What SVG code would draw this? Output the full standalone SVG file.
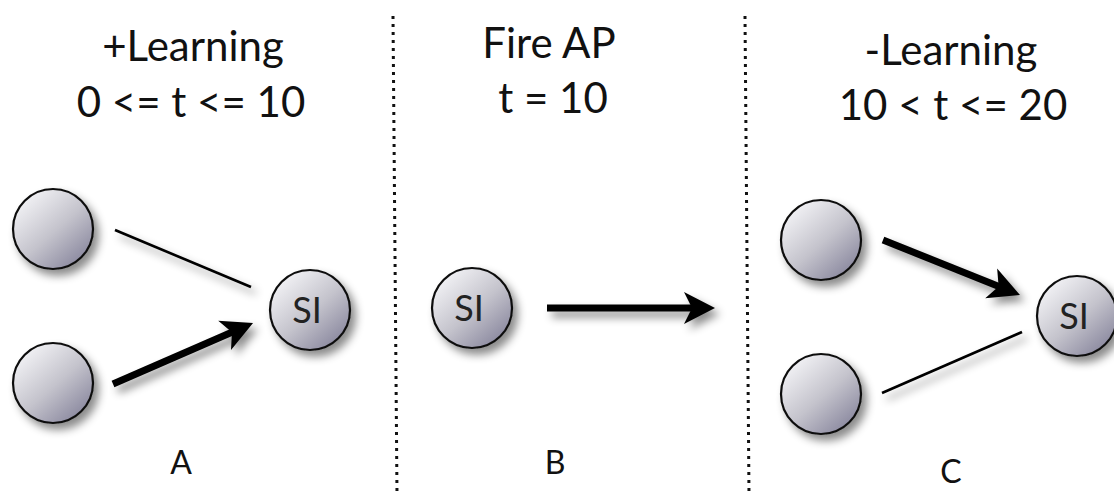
<svg xmlns="http://www.w3.org/2000/svg" width="1114" height="494" viewBox="0 0 1114 494">
  <style>
    .title { font-family: Lato, "Open Sans", sans-serif; font-size: 42px; fill: #111; text-anchor: middle; }
    .label { font-family: Lato, "Open Sans", sans-serif; font-size: 32px; fill: #111; text-anchor: middle; }
    .nodetext { font-family: Lato, "Open Sans", sans-serif; font-size: 36px; fill: #222; text-anchor: middle; }
    .neuron { fill: url(#ballGrad); stroke: #111; stroke-width: 2.2; filter: url(#shadow); }
    .divider { stroke: #111; stroke-width: 3; stroke-dasharray: 3 5; fill: none; }
    .weak { stroke: #000; stroke-width: 2.6; fill: none; filter: url(#shadow); }
    .strong { stroke: #000; stroke-width: 7; fill: none; marker-end: url(#head); filter: url(#shadow); }
  </style>
  <defs>
    <linearGradient id="ballGrad" x1="0.15" y1="0.1" x2="0.9" y2="0.95">
      <stop offset="0" stop-color="#f2f2f5"/>
      <stop offset="0.5" stop-color="#c4c3cc"/>
      <stop offset="1" stop-color="#84829a"/>
    </linearGradient>
    <!-- user-space region so straight horizontal strokes keep their shadow -->
    <filter id="shadow" filterUnits="userSpaceOnUse" x="0" y="0" width="1114" height="494">
      <feDropShadow dx="5" dy="6" stdDeviation="4" flood-color="#000" flood-opacity="0.45"/>
    </filter>
    <marker id="head" markerUnits="userSpaceOnUse" orient="auto" refX="0" refY="0"
            viewBox="-15 -20 40 40" markerWidth="40" markerHeight="40" overflow="visible">
      <path d="M20,0 L-11,-16 L-3,0 L-11,16 Z" fill="#000"/>
    </marker>
  </defs>

  <!-- panel dividers -->
  <line class="divider" x1="393" y1="16" x2="397" y2="494"/>
  <line class="divider" x1="745" y1="16" x2="749" y2="494"/>

  <!-- headings -->
  <text class="title" x="193" y="61">+Learning</text>
  <text class="title" x="191" y="117">0 &lt;= t &lt;= 10</text>
  <text class="title" x="549" y="58">Fire AP</text>
  <text class="title" x="553" y="113">t = 10</text>
  <text class="title" x="951" y="65">-Learning</text>
  <text class="title" x="953" y="120">10 &lt; t &lt;= 20</text>

  <!-- connectors -->
  <g id="connectors">
    <line class="weak" x1="115" y1="230" x2="251" y2="287"/>
    <line class="strong" x1="113" y1="384" x2="234.7" y2="331"/>
    <line class="strong" x1="547" y1="308" x2="695" y2="308"/>
    <line class="strong" x1="883" y1="240" x2="1001.4" y2="287.5"/>
    <line class="weak" x1="882" y1="393" x2="1022" y2="332"/>
  </g>

  <!-- panel A -->
  <g id="a-in1"><circle class="neuron" cx="53" cy="229" r="40"/></g>
  <g id="a-in2"><circle class="neuron" cx="53" cy="383" r="40"/></g>
  <g id="a-s1"><circle class="neuron" cx="310" cy="310" r="40"/><text class="nodetext" x="307" y="323">SI</text></g>

  <!-- panel B -->
  <g id="b-s1"><circle class="neuron" cx="472" cy="308" r="40"/><text class="nodetext" x="469" y="321">SI</text></g>

  <!-- panel C -->
  <g id="c-in1"><circle class="neuron" cx="821" cy="240" r="40"/></g>
  <g id="c-in2"><circle class="neuron" cx="821" cy="394" r="40"/></g>
  <g id="c-s1"><circle class="neuron" cx="1077" cy="316" r="40"/><text class="nodetext" x="1074" y="329">SI</text></g>

  <!-- panel letters -->
  <text class="label" x="181" y="474">A</text>
  <text class="label" x="555" y="474">B</text>
  <text class="label" x="951" y="483">C</text>
</svg>
